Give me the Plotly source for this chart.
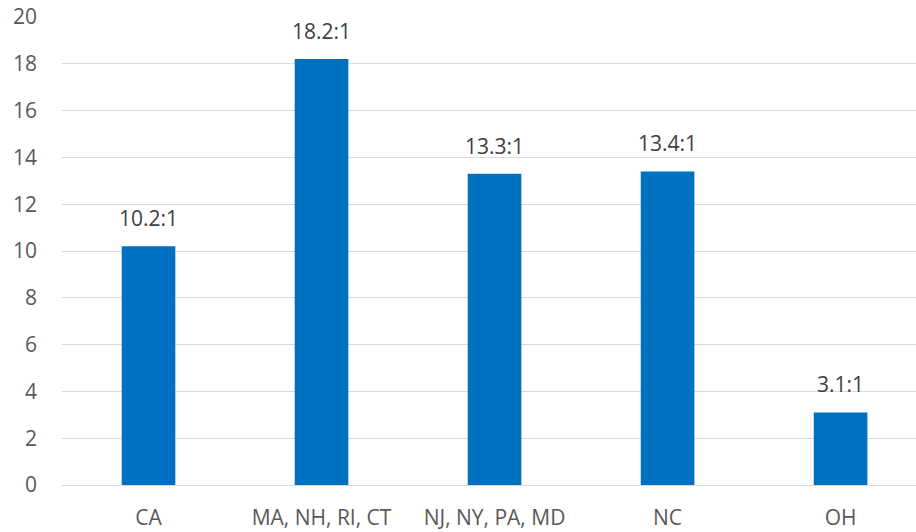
import plotly.graph_objects as go

categories = ["CA", "MA, NH, RI, CT", "NJ, NY, PA, MD", "NC", "OH"]
values = [10.2, 18.2, 13.3, 13.4, 3.1]
labels = ["10.2:1", "18.2:1", "13.3:1", "13.4:1", "3.1:1"]
y_ticks = list(range(0, 21, 2))

fig = go.Figure(go.Bar(
    x=categories, y=values,
    marker=dict(color="#0070C0", line=dict(width=0)),
    width=0.31,
))
for c, v, t in zip(categories, values, labels):
    fig.add_annotation(x=c, y=v, text=t, showarrow=False, yanchor="middle",
                       yshift=28, font=dict(size=21, color="#404040"))

fig.update_layout(
    width=916, height=532,
    margin=dict(l=62, r=0, t=17, b=46.5, autoexpand=False),
    paper_bgcolor="white", plot_bgcolor="white",
    font=dict(family="Open Sans, sans-serif", size=21, color="#595959"),
    showlegend=False,
)
fig.update_xaxes(range=[-0.5, 4.436], showgrid=False, showline=False, ticks="",
                 automargin=False, ticklabelstandoff=18,
                 tickfont=dict(size=21, color="#595959"))
fig.update_yaxes(range=[0, 20], tickvals=y_ticks, showgrid=True, gridcolor="#D9D9D9",
                 gridwidth=1, zeroline=True, zerolinecolor="#D9D9D9", zerolinewidth=1,
                 automargin=False, ticks="", ticklabelstandoff=24,
                 tickfont=dict(size=21, color="#595959"))
fig.write_html("out.html", config={"displayModeBar": False},
               post_script="document.body.style.margin='0';document.body.style.overflow='hidden';")
